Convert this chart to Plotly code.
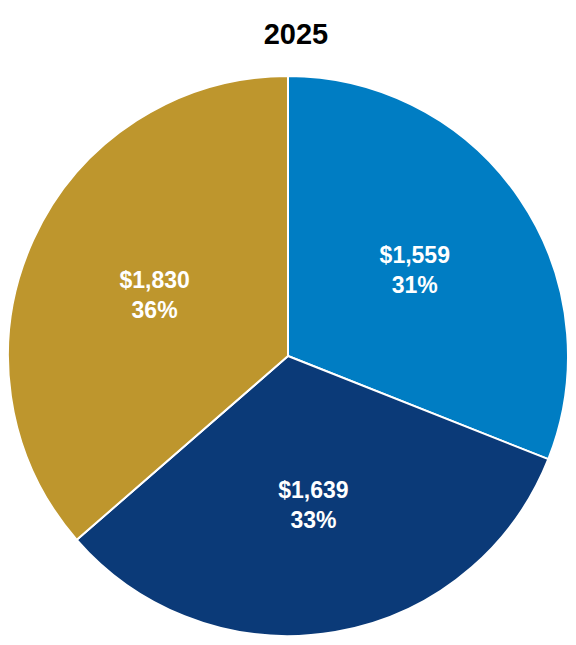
import plotly.graph_objects as go

labels = ["A", "B", "C"]
values = [1559, 1639, 1830]
pcts = ["31%", "33%", "36%"]
colors = ["#007DC3", "#0B3A78", "#BE962D"]

text = [f"<b>${v:,}<br>{p}</b>" for v, p in zip(values, pcts)]

fig = go.Figure(go.Pie(
    labels=labels, values=values, sort=False, direction="clockwise", rotation=0,
    marker=dict(colors=colors, line=dict(color="white", width=2)),
    text=text, texttemplate="%{text}", textinfo="text", textposition="inside",
    insidetextorientation="horizontal",
    textfont=dict(color="white", size=23, family="Arial"),
    showlegend=False, hoverinfo="skip"))
fig.update_layout(
    width=576, height=645, paper_bgcolor="white",
    margin=dict(l=0, r=16, t=66, b=15),
    title=dict(text="<b>2025</b>", x=0.5, xanchor="center", y=0.96, yanchor="middle",
               font=dict(size=29, color="black", family="Arial")))
fig.write_html("out.html")
